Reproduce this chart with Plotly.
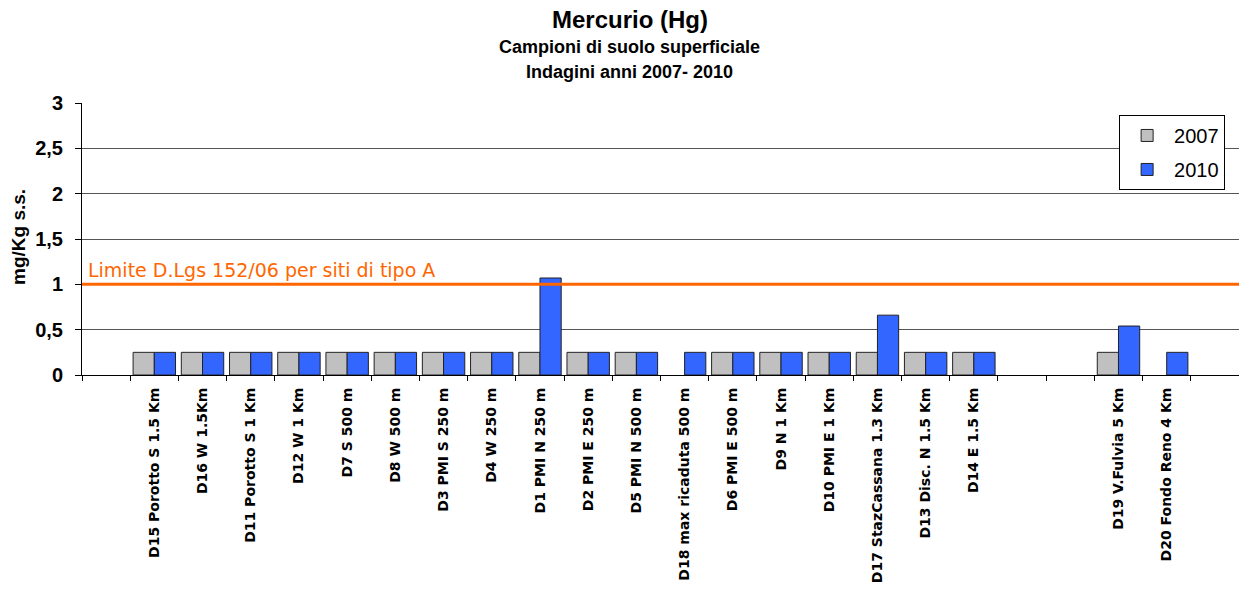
import plotly.graph_objects as go

# Sampling sites (blank slots keep the spacing of the original layout)
sites = [
    " ",
    "D15 Porotto S 1.5 Km", "D16 W 1.5Km", "D11 Porotto S 1 Km", "D12 W 1 Km",
    "D7 S 500 m", "D8 W 500 m", "D3 PMI S 250 m", "D4 W 250 m",
    "D1 PMI N 250 m", "D2 PMI E 250 m", "D5 PMI N 500 m", "D18 max ricaduta 500 m",
    "D6 PMI E 500 m", "D9 N 1 Km", "D10 PMI E 1 Km", "D17 StazCassana 1.3 Km",
    "D13 Disc. N 1.5 Km", "D14 E 1.5 Km",
    "  ", "   ",
    "D19 V.Fulvia 5 Km", "D20 Fondo Reno 4 Km",
    "    ",
]

# Mercury concentration, mg/Kg s.s.
hg_2007 = [None,
           0.25, 0.25, 0.25, 0.25, 0.25, 0.25, 0.25, 0.25, 0.25, 0.25, 0.25, None,
           0.25, 0.25, 0.25, 0.25, 0.25, 0.25,
           None, None,
           0.25, None,
           None]
hg_2010 = [None,
           0.25, 0.25, 0.25, 0.25, 0.25, 0.25, 0.25, 0.25, 1.07, 0.25, 0.25, 0.25,
           0.25, 0.25, 0.25, 0.66, 0.25, 0.25,
           None, None,
           0.54, 0.25,
           None]

limit_value = 1.0
limit_label = "Limite D.Lgs 152/06 per siti di tipo A"

y_ticks = [0, 0.5, 1, 1.5, 2, 2.5, 3]

TITLE_X = 0.4736  # titles sit slightly left of the plot-area centre

fig = go.Figure()
fig.add_trace(go.Bar(x=sites, y=hg_2007, name="2007", legendgroup="a",
                     marker=dict(color="#C0C0C0", line=dict(color="#222222", width=1))))
fig.add_trace(go.Bar(x=sites, y=hg_2010, name="2010", legendgroup="b",
                     marker=dict(color="#3366FF", line=dict(color="#222222", width=1))))

# Regulatory threshold line
fig.add_shape(type="line", xref="paper", yref="y", x0=0, x1=1,
              y0=limit_value, y1=limit_value,
              line=dict(color="#FF6600", width=3), layer="above")
fig.add_annotation(xref="paper", yref="y", x=0, y=limit_value, xshift=4, yshift=1,
                   xanchor="left", yanchor="bottom", showarrow=False,
                   text=limit_label,
                   font=dict(family="DejaVu Sans", size=19, color="#FF6600"))

# Titles
fig.add_annotation(xref="paper", yref="paper", x=TITLE_X, y=1, yshift=84,
                   xanchor="center", yanchor="middle", showarrow=False,
                   text="<b>Mercurio (Hg)</b>",
                   font=dict(family="Liberation Sans", size=24, color="black"))
fig.add_annotation(xref="paper", yref="paper", x=TITLE_X, y=1, yshift=56,
                   xanchor="center", yanchor="middle", showarrow=False,
                   text="<b>Campioni di suolo superficiale</b>",
                   font=dict(family="Liberation Sans", size=18, color="black"))
fig.add_annotation(xref="paper", yref="paper", x=TITLE_X, y=1, yshift=31,
                   xanchor="center", yanchor="middle", showarrow=False,
                   text="<b>Indagini anni 2007- 2010</b>",
                   font=dict(family="Liberation Sans", size=18, color="black"))

# Y axis title
fig.add_annotation(xref="paper", yref="paper", x=0, y=0.5, xshift=-64, yshift=2,
                   xanchor="center", yanchor="middle", showarrow=False,
                   textangle=-90, text="<b>mg/Kg s.s.</b>",
                   font=dict(family="Liberation Sans", size=19, color="black"))

fig.update_layout(
    width=1239, height=589,
    margin=dict(l=82, r=0, t=103, b=214),
    paper_bgcolor="white", plot_bgcolor="white",
    barmode="group", bargap=0.12, bargroupgap=0,
    separators=",.",
    font=dict(family="Liberation Sans", color="black"),
    showlegend=True,
    legend=dict(
        x=0.988, y=0.956, xanchor="right", yanchor="top",
        bgcolor="white", bordercolor="black", borderwidth=1,
        font=dict(family="Liberation Sans", size=20, color="black"),
        itemwidth=44, tracegroupgap=5,
    ),
    xaxis=dict(
        type="category", categoryorder="array", categoryarray=sites,
        tickangle=-90, tickson="boundaries", ticks="outside", ticklen=5,
        ticklabelstandoff=6,
        tickcolor="black", showline=True, linecolor="black", linewidth=1,
        tickfont=dict(family="DejaVu Sans", size=14, color="black", weight="bold"),
        showgrid=False, fixedrange=True,
    ),
    yaxis=dict(
        range=[0, 3], tickvals=y_ticks, ticks="outside", ticklen=6,
        ticklabelstandoff=8,
        tickcolor="black", showline=True, linecolor="black", linewidth=1,
        showgrid=True, gridcolor="#555555", gridwidth=1,
        tickfont=dict(family="Liberation Sans", size=20, color="black", weight="bold"),
        zeroline=False, fixedrange=True,
    ),
)

fig.write_html("out.html")
